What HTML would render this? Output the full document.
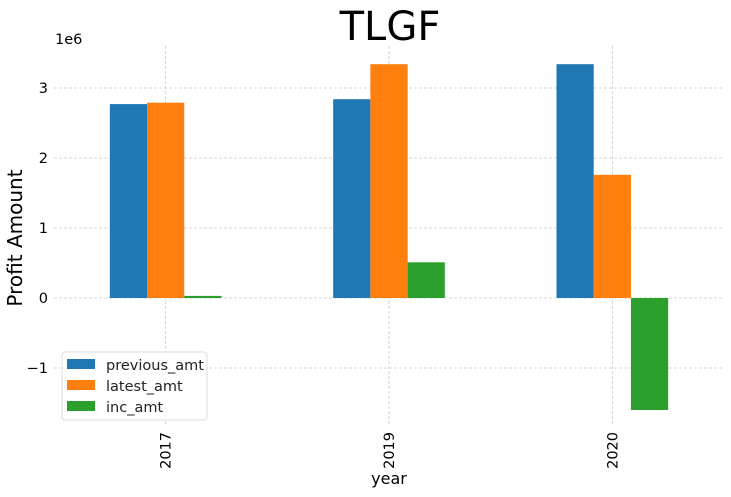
<!DOCTYPE html>
<html><head><meta charset="utf-8"><style>
body{margin:0;background:#fff;font-family:"Liberation Sans","DejaVu Sans",sans-serif}
svg text{font-family:"DejaVu Sans","Liberation Sans",sans-serif}
</style></head><body>
<svg id="c" width="731" height="492" xmlns="http://www.w3.org/2000/svg"></svg>
<script>
const categories=["2017","2019","2020"];
const previousAmt=[2.77,2.84,3.34];
const latestAmt=[2.79,3.34,1.76];
const incAmt=[0.03,0.51,-1.6];
const yTicks=[-1,0,1,2,3];
const seriesNames=["previous_amt","latest_amt","inc_amt"];
const colors=["#1f77b4","#ff7f0e","#2ca02c"];
const NS="http://www.w3.org/2000/svg";
const svg=document.getElementById('c');
const L=54,R=724,T=46,B=424,ymin=-1.8,ymax=3.6;
const x=i=>L+(i+0.5)*(R-L)/categories.length;
const y=v=>B-(v-ymin)/(ymax-ymin)*(B-T);
function mk(t,a,p){const e=document.createElementNS(NS,t);for(const k in a)e.setAttribute(k,a[k]);(p||svg).appendChild(e);return e;}
const grid=mk('g',{});


yTicks.forEach(t=>{mk('line',{x1:L,x2:R,y1:y(t),y2:y(t),stroke:'#c8c8c8','stroke-width':0.8,'stroke-dasharray':'3,2'},grid);
const tx=mk('text',{x:L-6,y:y(t)+5,'text-anchor':'end','font-size':14.5,fill:'#000'});tx.textContent=t<0?'\u2212'+Math.abs(t):t;

});
categories.forEach((c,i)=>{mk('line',{x1:x(i),x2:x(i),y1:T,y2:B,stroke:'#c8c8c8','stroke-width':0.8,'stroke-dasharray':'3,2'},grid);
const tx=mk('text',{transform:`translate(${x(i)+5},${B+8}) rotate(-90)`,'text-anchor':'end','font-size':14.5});tx.textContent=c;

});
const bw=(R-L)/categories.length*0.5/3;
[previousAmt,latestAmt,incAmt].forEach((s,k)=>{s.forEach((v,i)=>{const x0=x(i)-1.5*bw+k*bw;
const r=mk('rect',{x:x0,y:Math.min(y(v),y(0)),width:bw,height:Math.abs(y(v)-y(0)),fill:colors[k]});

});});
let t=mk('text',{x:390,y:40,'text-anchor':'middle','font-size':40});t.textContent='TLGF';

t=mk('text',{x:55,y:44,'font-size':14.5});t.textContent='1e6';

t=mk('text',{transform:'translate(22,238) rotate(-90)','text-anchor':'middle','font-size':20});t.textContent='Profit Amount';

t=mk('text',{x:389,y:484,'text-anchor':'middle','font-size':16});t.textContent='year';

const lg=mk('g',{});

mk('rect',{x:62,y:352,width:145,height:68,rx:3,fill:'#fff','fill-opacity':0.85,stroke:'#ddd'},lg);
seriesNames.forEach((n,k)=>{mk('rect',{x:67,y:359+k*21,width:28,height:10,fill:colors[k]},lg);
const e=mk('text',{x:106,y:370+k*21,'font-size':14.5,fill:'#222'},lg);e.textContent=n;
});
</script>
</body></html>
